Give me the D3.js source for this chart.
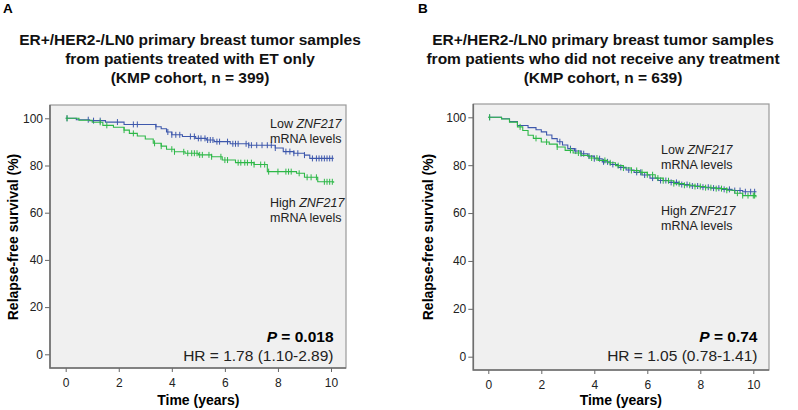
<!DOCTYPE html>
<html>
<head>
<meta charset="utf-8">
<script src="https://cdn.jsdelivr.net/npm/d3@7"></script>
<style>
  body { margin: 0; background: #fff; }
  svg { font-family: "Liberation Sans", Arial, sans-serif; }
  .tick text { font-size: 12px; fill: #222; }
  .tick line { stroke: #666; }
</style>
</head>
<body>
<div id="chart"></div>
<script>
// Kaplan-Meier curves, ZNF217 low vs high, two cohorts

// axis ticks
var timeTicks = [0, 2, 4, 6, 8, 10];
var survTicks = [0, 20, 40, 60, 80, 100];

// panel A - ET only (step times in years, survival in %)
var aLowTimes = [0, 0.4, 0.9, 1.5, 2.2, 3.4, 3.6, 3.8, 4.0, 4.4, 4.9, 5.3, 5.6, 6.2, 6.9, 7.9, 8.2, 8.6, 9.0, 9.2, 10.1];
var aLowSurv  = [100, 99.4, 99.0, 98.4, 97.4, 96.4, 95.6, 94.2, 93.0, 92.3, 91.5, 90.8, 90.1, 89.2, 88.6, 87.4, 85.9, 85.2, 84.4, 83.0, 83.0];
var aLowCensor = [0.05, 0.85, 1.05, 1.3, 1.95, 2.55, 2.7, 3.4, 3.85, 4.0, 4.15, 4.3, 4.7, 4.85, 5.0, 5.1, 5.25, 5.35, 5.45, 5.55, 5.7, 5.8, 6.1, 6.3, 6.4, 6.5, 6.8, 6.9, 7.0, 7.2, 7.4, 7.6, 7.75, 7.9, 8.3, 8.45, 8.6, 8.75, 9.0, 9.3, 9.45, 9.55, 9.65, 9.75, 9.85, 9.95, 10.05];

var aHighTimes = [0, 0.5, 1.0, 1.4, 1.8, 2.2, 2.4, 2.7, 3.0, 3.3, 3.6, 3.8, 4.1, 4.5, 5.0, 5.5, 5.9, 6.4, 7.1, 7.6, 8.7, 9.0, 9.5, 10.1];
var aHighSurv  = [100, 99.2, 98.3, 97.0, 96.2, 95.0, 93.6, 92.5, 91.2, 89.4, 88.2, 86.9, 85.8, 85.2, 84.5, 83.7, 82.3, 81.2, 80.4, 77.4, 76.7, 75.0, 73.1, 72.7];
var aHighCensor = [0.05, 1.3, 1.55, 2.2, 2.55, 3.35, 3.6, 4.0, 4.1, 4.45, 4.6, 4.75, 4.85, 4.95, 5.05, 5.15, 5.4, 5.5, 5.85, 6.0, 6.1, 6.5, 6.6, 6.75, 6.85, 7.0, 7.1, 7.35, 7.5, 7.65, 8.0, 8.3, 8.4, 8.5, 8.8, 9.1, 9.25, 9.45, 9.75, 9.85, 9.95, 10.05];

// panel B - no treatment
var bLowTimes = [0, 0.5, 0.8, 1.1, 1.5, 1.8, 2.0, 2.2, 2.4, 2.6, 2.8, 3.0, 3.25, 3.5, 3.75, 4.0, 4.3, 4.6, 4.9, 5.2, 5.5, 5.8, 6.1, 6.4, 6.8, 7.2, 7.6, 8.0, 8.4, 8.8, 9.2, 9.6, 10.1];
var bLowSurv  = [100, 99.4, 98.2, 96.6, 95.7, 94.8, 93.9, 92.6, 91.1, 89.8, 88.4, 86.9, 85.9, 84.8, 83.8, 82.7, 81.4, 80.3, 79.1, 78.0, 77.0, 75.9, 74.6, 73.6, 72.8, 71.9, 71.3, 70.8, 70.4, 69.9, 69.4, 68.9, 68.7];
var bLowCensor = [0.05, 2.7, 3.1, 3.3, 3.5, 3.6, 3.8, 4.0, 4.2, 4.35, 4.5, 4.7, 5.0, 5.3, 5.6, 5.75, 5.9, 6.2, 6.5, 6.7, 6.9, 7.1, 7.3, 7.5, 7.7, 7.9, 8.1, 8.3, 8.5, 8.7, 8.9, 9.1, 9.3, 9.5, 9.7, 9.9, 10.05];

var bHighTimes = [0, 0.5, 0.8, 1.1, 1.3, 1.5, 1.7, 2.0, 2.3, 2.6, 2.9, 3.2, 3.5, 3.8, 4.15, 4.5, 4.8, 5.1, 5.4, 5.7, 6.0, 6.3, 6.6, 7.0, 7.4, 7.8, 8.2, 8.6, 9.0, 9.3, 9.6, 10.1];
var bHighSurv  = [100, 99.3, 98.0, 96.0, 94.5, 92.5, 91.2, 89.7, 88.8, 87.6, 86.2, 85.1, 84.1, 83.0, 82.0, 81.0, 79.8, 78.8, 77.8, 77.0, 76.0, 74.6, 73.5, 72.3, 71.6, 71.1, 70.6, 70.2, 69.5, 68.3, 67.3, 66.6];
var bHighCensor = [0.05, 1.2, 1.8, 2.2, 2.6, 3.1, 3.4, 3.9, 4.1, 4.4, 4.6, 4.9, 5.1, 5.4, 5.6, 5.8, 6.0, 6.2, 6.4, 6.6, 6.8, 7.0, 7.2, 7.4, 7.6, 7.8, 8.0, 8.2, 8.4, 8.6, 8.8, 9.0, 9.4, 9.6, 9.8, 10.0, 10.05];

var blue = "#3e58ac", green = "#2eb848";

var svg = d3.select("#chart").append("svg")
	.attr("width", 798)
	.attr("height", 410);

// build the panels
drawPanel({
	letter: "A", letterX: 3,
	title: ["ER+/HER2-/LN0 primary breast tumor samples", "from patients treated with ET only", "(KMP cohort, n = 399)"],
	titleX: 190,
	frame: { left: 50, right: 346, top: 105, bottom: 368 },
	xRange: [65.7, 331], yRange: [354.3, 118.3],
	ylabelX: 13,
	curves: [
		{ times: aLowTimes, surv: aLowSurv, censor: aLowCensor, color: blue },
		{ times: aHighTimes, surv: aHighSurv, censor: aHighCensor, color: green }
	],
	legendX: 270, lowY: 127.5, highY: 206.5,
	pText: "0.018", hrText: "HR = 1.78 (1.10-2.89)", statX: 333.5
});

drawPanel({
	letter: "B", letterX: 418,
	title: ["ER+/HER2-/LN0 primary breast tumor samples", "from patients who did not receive any treatment", "(KMP cohort, n = 639)"],
	titleX: 603,
	frame: { left: 473.3, right: 769, top: 104, bottom: 370 },
	xRange: [488.3, 753.3], yRange: [356.7, 117.3],
	ylabelX: 428,
	curves: [
		{ times: bLowTimes, surv: bLowSurv, censor: bLowCensor, color: blue },
		{ times: bHighTimes, surv: bHighSurv, censor: bHighCensor, color: green }
	],
	legendX: 661, lowY: 153.8, highY: 215,
	pText: "0.74", hrText: "HR = 1.05 (0.78-1.41)", statX: 757.5
});

function drawPanel(p) {

	var x = d3.scaleLinear().domain([0, 10]).range(p.xRange);
	var y = d3.scaleLinear().domain([0, 100]).range(p.yRange);
	var f = p.frame;

	svg.append("text")
		.attr("x", p.letterX).attr("y", 13)
		.style("font-size", "13.5px").style("font-weight", "bold")
		.text(p.letter);

	svg.append("g").selectAll("text")
		.data(p.title)
	.enter().append("text")
		.attr("x", p.titleX)
		.attr("y", function(d, i) { return 44.5 + i * 19; })
		.attr("text-anchor", "middle")
		.style("font-size", "15.5px").style("font-weight", "bold").style("fill", "#111")
		.text(function(d) { return d; });

	// plot background + frame
	svg.append("rect")
		.attr("x", f.left).attr("y", f.top)
		.attr("width", f.right - f.left).attr("height", f.bottom - f.top)
		.style("fill", "#f0f0f0").style("stroke", "#9a9a9a").style("stroke-width", 1.2);

	var yAxis = d3.axisLeft(y).tickValues(survTicks).tickSize(5).tickSizeOuter(0).tickPadding(2);
	var gy = svg.append("g")
		.attr("transform", "translate(" + f.left + ",0)")
		.call(yAxis);
	gy.select(".domain").remove();

	var xAxis = d3.axisBottom(x).tickValues(timeTicks).tickSize(4).tickSizeOuter(0).tickPadding(6);
	var gx = svg.append("g")
		.attr("transform", "translate(0," + f.bottom + ")")
		.call(xAxis);
	gx.select(".domain").remove();

	// darker left & bottom axis lines
	svg.append("path")
		.attr("d", "M" + f.left + "," + f.top + "V" + f.bottom + "H" + f.right)
		.style("fill", "none").style("stroke", "#6e6e6e").style("stroke-width", 1.6);

	svg.append("text")
		.attr("x", (p.xRange[0] + p.xRange[1]) / 2).attr("y", 405)
		.attr("text-anchor", "middle")
		.style("font-size", "14px").style("font-weight", "bold")
		.text("Time (years)");

	svg.append("text")
		.attr("transform", "translate(" + (p.ylabelX + 5) + ",237) rotate(-90)")
		.attr("text-anchor", "middle")
		.style("font-size", "14px").style("font-weight", "bold")
		.text("Relapse-free survival (%)");

	// KM step curves
	var line = d3.line()
		.x(function(d) { return x(d.t); })
		.y(function(d) { return y(d.s); })
		.curve(d3.curveStepAfter);

	p.curves.forEach(function(c) {
		var pts = c.times.map(function(t, i) { return { t: t, s: c.surv[i] }; });
		svg.append("path")
			.datum(pts)
			.attr("d", line)
			.style("fill", "none").style("stroke", c.color).style("stroke-width", 1.1);

		var bis = d3.bisector(function(d) { return d.t; }).right;
		svg.append("g").selectAll("line")
			.data(c.censor)
		.enter().append("line")
			.attr("x1", function(d) { return x(d); })
			.attr("x2", function(d) { return x(d); })
			.attr("y1", function(d) { return y(pts[Math.max(0, bis(pts, d) - 1)].s) - 3; })
			.attr("y2", function(d) { return y(pts[Math.max(0, bis(pts, d) - 1)].s) + 3; })
			.style("stroke", c.color).style("stroke-width", 1);
	});

	// legend labels
	legendLabel(p.legendX, p.lowY, "Low ");
	legendLabel(p.legendX, p.highY, "High ");

	// stats
	var pt = svg.append("text")
		.attr("x", p.statX).attr("y", 341.5)
		.attr("text-anchor", "end")
		.style("font-size", "15.5px").style("font-weight", "bold");
	pt.append("tspan").style("font-style", "italic").text("P");
	pt.append("tspan").text(" = " + p.pText);

	svg.append("text")
		.attr("x", p.statX).attr("y", 360.5)
		.attr("text-anchor", "end")
		.style("font-size", "15.5px").style("fill", "#222")
		.text(p.hrText);
}

function legendLabel(lx, ly, word) {
	var t = svg.append("text")
		.attr("x", lx).attr("y", ly)
		.style("font-size", "12.5px").style("fill", "#222");
	t.append("tspan").text(word);
	t.append("tspan").style("font-style", "italic").text("ZNF217");
	svg.append("text")
		.attr("x", lx).attr("y", ly + 15)
		.style("font-size", "12.5px").style("fill", "#222")
		.text("mRNA levels");
}
</script>
</body>
</html>
